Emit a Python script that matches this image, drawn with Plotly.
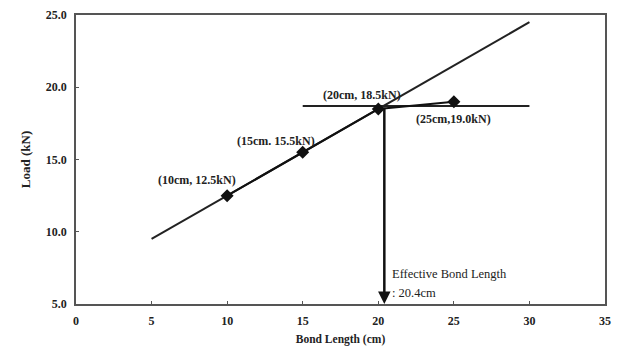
import plotly.graph_objects as go

# Data
bond_length = [10, 15, 20, 25]
load = [12.5, 15.5, 18.5, 19.0]
point_labels = ["(10cm, 12.5kN)", "(15cm. 15.5kN)", "(20cm, 18.5kN)", "(25cm,19.0kN)"]
trend_x = [5, 30]
trend_y = [9.5, 24.5]
plateau_x = [15, 30]
plateau_y = [18.7, 18.7]
effective_length = 20.4
effective_load = 18.7

FONT = "Liberation Serif"

fig = go.Figure()

fig.add_trace(go.Scatter(x=trend_x, y=trend_y, mode="lines",
                         line=dict(color="#222222", width=2), showlegend=False, hoverinfo="skip"))
fig.add_trace(go.Scatter(x=plateau_x, y=plateau_y, mode="lines",
                         line=dict(color="#222222", width=2), showlegend=False, hoverinfo="skip"))
fig.add_trace(go.Scatter(x=bond_length, y=load, mode="lines+markers",
                         line=dict(color="#111111", width=2),
                         marker=dict(symbol="diamond", size=10, color="#111111"),
                         showlegend=False))

# arrow for effective bond length
fig.add_annotation(x=effective_length, y=5.0, ax=effective_length, ay=effective_load,
                   xref="x", yref="y", axref="x", ayref="y", text="",
                   showarrow=True, arrowhead=2, arrowsize=1, arrowwidth=2.5,
                   arrowcolor="#111111", standoff=0)

# point labels
label_pos = [(8.0, 13.6), (13.2, 16.3), (18.9, 19.45), (25.0, 17.8)]
for (lx, ly), t in zip(label_pos, point_labels):
    fig.add_annotation(x=lx, y=ly, xref="x", yref="y", text=f"<b>{t}</b>", showarrow=False,
                       font=dict(family=FONT, size=12, color="#222222"), xanchor="center")

fig.add_annotation(x=20.75, y=7.08, xref="x", yref="y", text="Effective Bond Length",
                   showarrow=False, xanchor="left", font=dict(family=FONT, size=12.5, color="#222222"))
fig.add_annotation(x=20.75, y=5.76, xref="x", yref="y", text=": 20.4cm",
                   showarrow=False, xanchor="left", font=dict(family=FONT, size=12.5, color="#222222"))

axis_common = dict(showline=True, linecolor="#555555", linewidth=1.5, mirror=True, automargin=False,
                   ticks="inside", ticklen=3, tickcolor="#555555", showgrid=False, zeroline=False,
                   tickfont=dict(family=FONT, size=12, color="#222222", weight="bold"))

fig.update_xaxes(range=[0, 35], tick0=0, dtick=5, ticklabelstandoff=5,
                 title=dict(text="<b>Bond Length (cm)</b>", font=dict(family=FONT, size=11.5, color="#222222"), standoff=8),
                 **axis_common)
fig.update_yaxes(range=[5, 25], tick0=5, dtick=5, tickformat=".1f", ticklabelstandoff=5,
                 title=dict(text="<b>Load (kN)</b>", font=dict(family=FONT, size=13, color="#222222"), standoff=12),
                 **axis_common)

fig.update_layout(width=622, height=351, margin=dict(l=76, r=17, t=15, b=47, autoexpand=False),
                  paper_bgcolor="white", plot_bgcolor="white")

fig.write_html("out.html")
